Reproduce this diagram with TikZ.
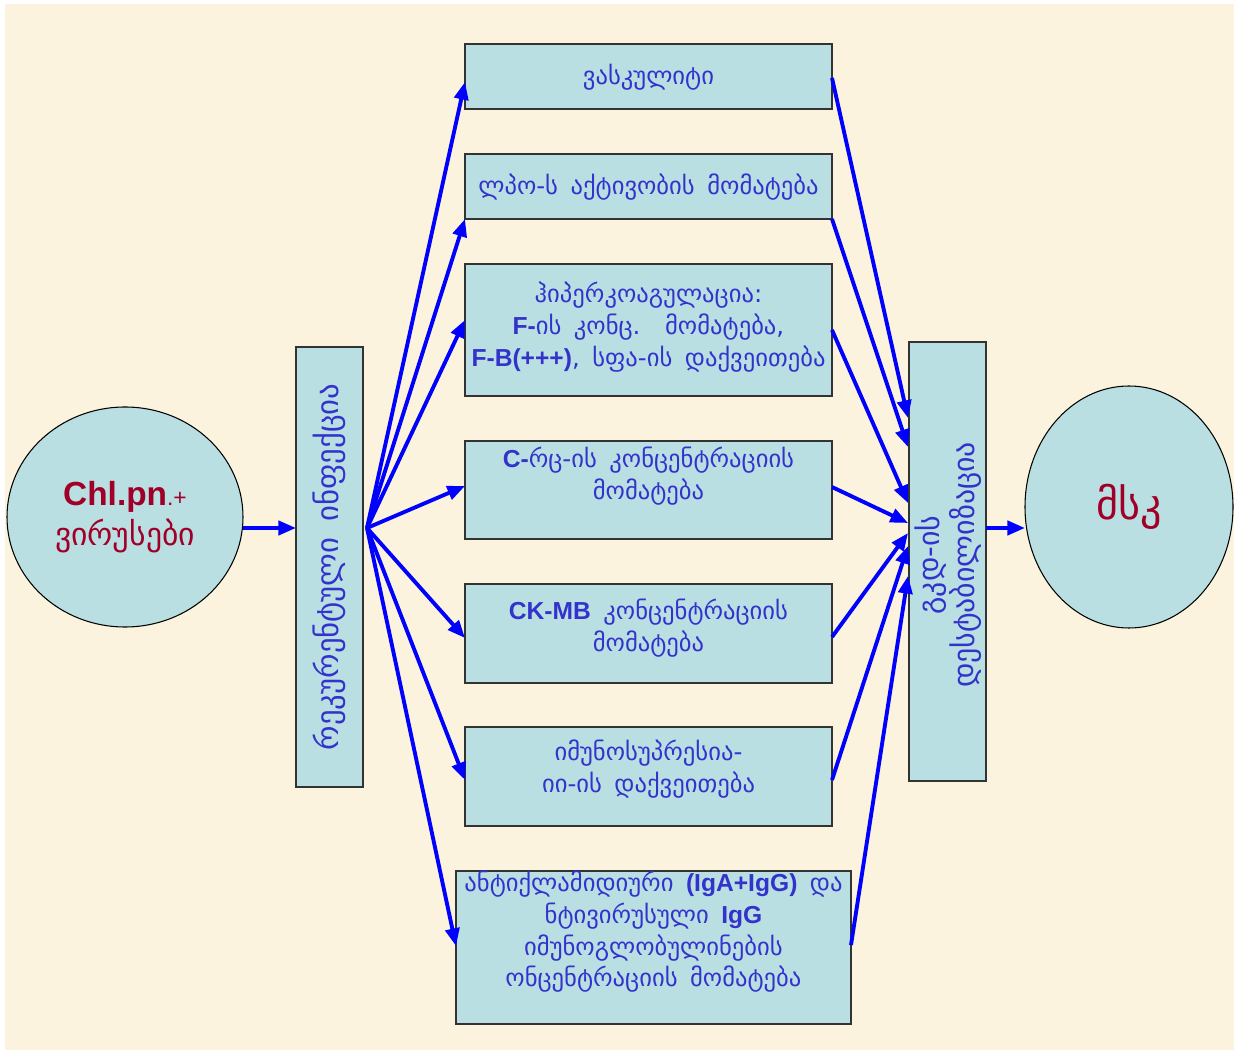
\documentclass[tikz,border=0pt]{standalone}
\usepackage{fontspec}
\setmainfont{DejaVu Sans}[WordSpace={1.6}]
\newfontfamily\latfont{Liberation Sans}
\usetikzlibrary{arrows.meta,shapes.geometric}
\newcommand{\lat}[1]{{\latfont\bfseries #1}}
\definecolor{parch}{RGB}{252,243,222}
\definecolor{boxfill}{RGB}{185,223,227}
\definecolor{txtblue}{RGB}{51,51,204}
\definecolor{darkred}{RGB}{160,0,40}
\definecolor{arrblue}{RGB}{0,0,255}

\begin{document}
\begin{tikzpicture}[x=0.2mm, y=-0.2mm,
  every node/.style={outer sep=0pt, inner sep=0pt},
  box/.style={draw=black!80, fill=boxfill, line width=0.7pt},
  txt/.style={text=txtblue, align=center, font=\fontsize{14}{18}\selectfont},
  oval/.style={ellipse, draw=black, fill=boxfill, line width=0.6pt, text=darkred, align=center},
  arr/.style={arrblue, line width=2.2pt, -{Triangle[length=10pt, width=8pt]}}]

% background
\fill[white] (0,0) rectangle (1238,1054);
\fill[parch] (5,4) rectangle (1234,1050);

% left and right ovals
\node[oval, minimum width=236*0.2mm, minimum height=220*0.2mm] (lc) at (125,517)
  {{\latfont\bfseries\fontsize{19}{24}\selectfont Chl.pn}{\latfont\fontsize{13}{24}\selectfont.+}\\[3pt]
   {\fontsize{18}{24}\selectfont ვირუსები}};
\node[oval, minimum width=208*0.2mm, minimum height=242*0.2mm, font=\fontsize{24}{28}\selectfont] (rc) at (1129,507) {მსკ};

% vertical boxes
\node[box, minimum width=67*0.2mm, minimum height=440*0.2mm] (lb) at (329.5,567) {};
\node[txt, rotate=90, font=\fontsize{17.5}{18}\selectfont] (lt) at (329.5,567) {რეკურენტული ინფექცია};
\node[box, minimum width=77*0.2mm, minimum height=439*0.2mm] (rb) at (947.5,561.5) {};
\node[txt, rotate=90, font=\fontsize{17}{20}\selectfont] (rt) at (948,565) {გკდ-ის\\დესტაბილიზაცია};

% middle boxes
\node[box, minimum width=367*0.2mm, minimum height=65*0.2mm] (b1) at (648.5,76.5) {};
\node[box, minimum width=367*0.2mm, minimum height=65*0.2mm] (b2) at (648.5,186.5) {};
\node[box, minimum width=367*0.2mm, minimum height=132*0.2mm] (b3) at (648.5,330) {};
\node[box, minimum width=367*0.2mm, minimum height=98*0.2mm] (b4) at (648.5,490) {};
\node[box, minimum width=367*0.2mm, minimum height=99*0.2mm] (b5) at (648.5,633.5) {};
\node[box, minimum width=367*0.2mm, minimum height=99*0.2mm] (b6) at (648.5,776.5) {};
\node[box, minimum width=395*0.2mm, minimum height=153*0.2mm] (b7) at (653.5,947.5) {};

\node[txt] (t1) at (648.5,77) {ვასკულიტი};
\node[txt] (t2) at (648.5,187) {ლპო-ს აქტივობის მომატება};
\node[txt] (t3) at (648.5,327) {ჰიპერკოაგულაცია:\\
  \lat{F-}ის კონც.\quad მომატება,\\ \lat{F-B(+++)}, სფა-ის დაქვეითება};
\node[txt] (t4) at (648.5,476) {\lat{C-}რც-ის კონცენტრაციის\\ მომატება};
\node[txt] (t5) at (648.5,628) {\lat{CK-MB} კონცენტრაციის\\ მომატება};
\node[txt] (t6) at (648.5,769) {იმუნოსუპრესია-\\ იი-ის დაქვეითება};
\node[txt] (t7) at (653.5,932) {ანტიქლამიდიური \lat{(IgA+IgG)} და\\
  ნტივირუსული \lat{IgG}\\ იმუნოგლობულინების\\ ონცენტრაციის მომატება};

% connectors
\coordinate (fan) at (367,528);
\draw[arr] (lc.east |- fan) -- (lb.west |- fan);
\draw[arr] (fan) -- (b1.west |- 0,82);
\draw[arr] (fan) -- (b2.south west);
\draw[arr] (fan) -- (b3.west |- 0,320);
\draw[arr] (fan) -- (b4.west |- 0,486);
\draw[arr] (fan) -- (b5.west |- 0,638);
\draw[arr] (fan) -- (b6.west |- 0,780);
\draw[arr] (fan) -- (b7.west |- 0,946);

\coordinate (r1) at (908,418);
\coordinate (r2) at (908,447);
\coordinate (r3) at (908,503);
\coordinate (r4) at (908,523);
\coordinate (r5) at (908,533);
\coordinate (r6) at (908,546);
\coordinate (r7) at (908,576);
\draw[arr] (b1.east |- 0,78) -- (r1);
\draw[arr] (b2.south east) -- (r2);
\draw[arr] (b3.east) -- (r3);
\draw[arr] (b4.east |- 0,487) -- (r4);
\draw[arr] (b5.east |- 0,637) -- (r5);
\draw[arr] (b6.east |- 0,780) -- (r6);
\draw[arr] (b7.east |- 0,945) -- (r7);
\draw[arr] (rb.east |- fan) -- (rc.west |- fan);
\end{tikzpicture}
\end{document}
